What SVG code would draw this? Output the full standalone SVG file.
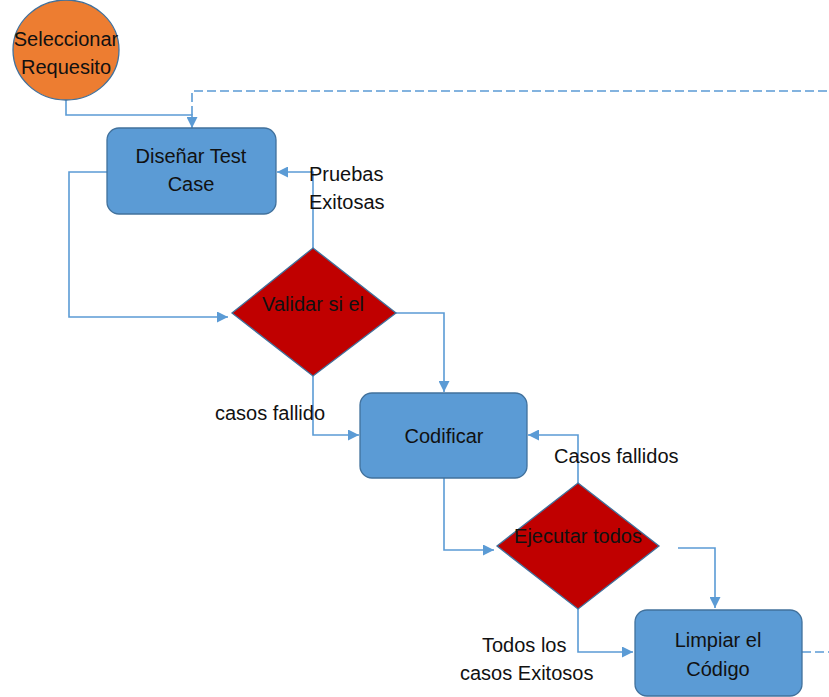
<svg xmlns="http://www.w3.org/2000/svg" width="829" height="697" viewBox="0 0 829 697">
<style>
.t{font-family:"Liberation Sans",Arial,sans-serif;font-size:20px;fill:#111;}
.c{stroke:#5B9BD5;stroke-width:1.6;fill:none;}
.d{stroke:#5B9BD5;stroke-width:1.6;fill:none;stroke-dasharray:9,4;}
.box{fill:#5B9BD5;stroke:#41719C;stroke-width:1.3;}
.dia{fill:#C00000;stroke:#41719C;stroke-width:1.3;}
</style>
<defs>
<marker id="a" viewBox="0 0 10 10" refX="10" refY="5" markerWidth="11" markerHeight="11" orient="auto" markerUnits="userSpaceOnUse">
<path d="M0,0 L10,5 L0,10 z" fill="#5B9BD5"/>
</marker>
</defs>
<g id="connectors">
<path class="c" d="M66,100 V115 H192 V128" marker-end="url(#a)"/>
<path class="d" d="M192,115 V91 H829"/>
<path class="c" d="M107,172 H69 V317 H228" marker-end="url(#a)"/>
<path class="c" d="M313,248 V172 H277" marker-end="url(#a)"/>
<path class="c" d="M396,313 H444 V392" marker-end="url(#a)"/>
<path class="c" d="M313,376 V435 H359" marker-end="url(#a)"/>
<path class="c" d="M444,478 V550 H494" marker-end="url(#a)"/>
<path class="c" d="M578,483 V435 H528" marker-end="url(#a)"/>
<path class="c" d="M678,548 H715 V608" marker-end="url(#a)"/>
<path class="c" d="M578,609 V652 H633" marker-end="url(#a)"/>
<path class="d" d="M802,652 H829"/>
<text class="t" x="309" y="181">Pruebas</text>
<text class="t" x="309" y="209">Exitosas</text>
<text class="t" x="215" y="420">casos fallido</text>
<text class="t" x="554" y="463">Casos fallidos</text>
<text class="t" x="482" y="652">Todos los</text>
<text class="t" x="460" y="680">casos Exitosos</text>
</g>
<g id="seleccionar">
<ellipse cx="66" cy="50" rx="53" ry="50" fill="#ED7D31" stroke="#41719C" stroke-width="1.3"/>
<text class="t" x="66" y="46" text-anchor="middle">Seleccionar</text>
<text class="t" x="66" y="74" text-anchor="middle">Requesito</text>
</g>
<g id="disenar">
<rect class="box" x="107" y="128" width="169" height="86" rx="12"/>
<text class="t" x="191" y="163" text-anchor="middle">Diseñar Test</text>
<text class="t" x="191" y="191" text-anchor="middle">Case</text>
</g>
<g id="validar">
<polygon class="dia" points="313,248 396,313 313,376 232,313"/>
<text class="t" x="313" y="311" text-anchor="middle">Validar si el</text>
</g>
<g id="codificar">
<rect class="box" x="360" y="393" width="167" height="85" rx="12"/>
<text class="t" x="444" y="443" text-anchor="middle">Codificar</text>
</g>
<g id="ejecutar">
<polygon class="dia" points="578,483 659,546 578,609 497,546"/>
<text class="t" x="578" y="543" text-anchor="middle">Ejecutar todos</text>
</g>
<g id="limpiar">
<rect class="box" x="635" y="610" width="167" height="86" rx="12"/>
<text class="t" x="718" y="647" text-anchor="middle">Limpiar el</text>
<text class="t" x="718" y="676" text-anchor="middle">Código</text>
</g>
</svg>
